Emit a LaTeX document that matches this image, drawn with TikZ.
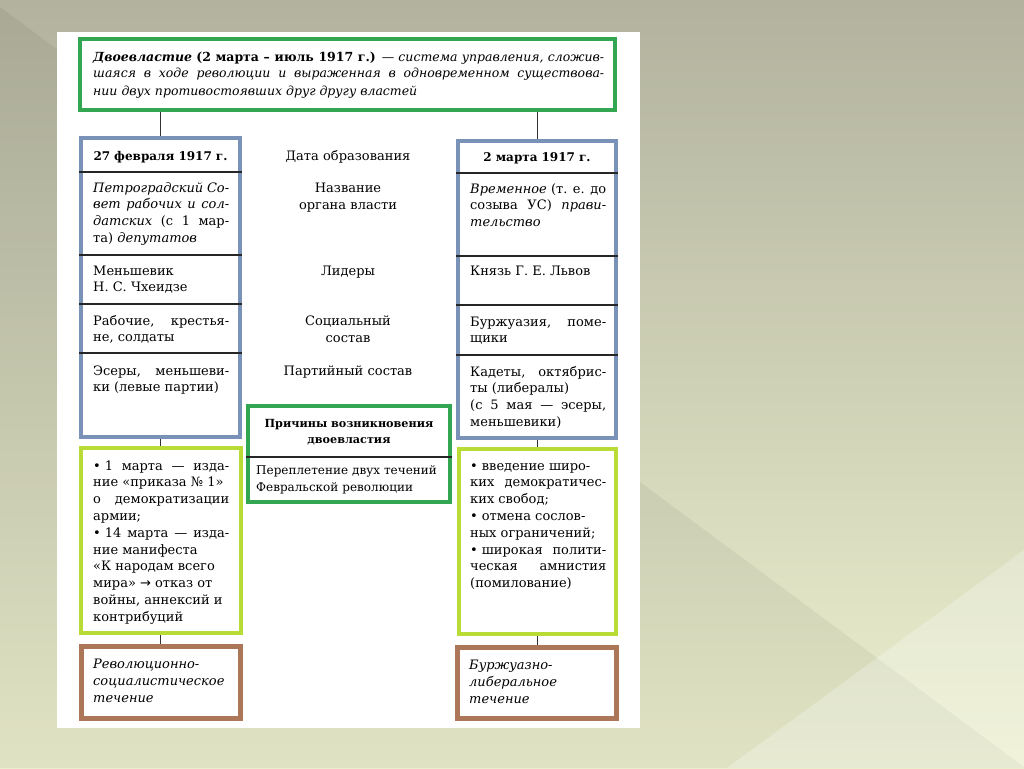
\documentclass[tikz,border=0pt]{standalone}
\usepackage{fontspec}
\setmainfont{DejaVu Serif}
\newfontfamily\symfont{DejaVu Sans}
\definecolor{cgreen}{RGB}{50,166,80}
\definecolor{cblue}{RGB}{122,146,184}
\definecolor{cyg}{RGB}{184,219,54}
\definecolor{cbrown}{RGB}{172,118,88}
\definecolor{bgtop}{RGB}{178,178,158}
\definecolor{bgbot}{RGB}{236,240,206}
\tikzset{
  frame/.style={draw, fill=white, inner sep=0pt, rectangle},
  gbox/.style={frame, draw=cgreen, line width=4pt},
  bbox/.style={frame, draw=cblue, line width=3.5pt},
  ybox/.style={frame, draw=cyg, line width=4pt},
  rbox/.style={frame, draw=cbrown, line width=5pt},
  txt/.style={inner sep=0pt, anchor=base west, align=justify, text width=136pt,
    font=\fontsize{13}{16.8}\selectfont},
  mid/.style={inner sep=0pt, anchor=base, align=center, text width=170pt,
    font=\fontsize{13}{17}\selectfont},
  conn/.style={draw=black!80, line width=1pt},
  divline/.style={draw=black!85, line width=1.3pt}
}
\begin{document}
\begin{tikzpicture}[x=1pt,y=-1pt]
\useasboundingbox (0,0) rectangle (1024,768);
% background
\shade[top color=bgtop, bottom color=bgbot] (0,0) rectangle (1024,768);
\fill[black, opacity=0.05] (0,7) -- (1024,767) -- (1024,768) -- (0,768) -- cycle;
\fill[white, opacity=0.25] (727,768) -- (1024,550) -- (1024,768) -- cycle;
\fill[white] (57,32) rectangle (640,728);

% boxes
\node[gbox, minimum width=535pt, minimum height=71pt] (top) at (347.5,74.5) {};
\node[bbox, minimum width=159pt, minimum height=299pt] (lb) at (160.5,287.5) {};
\node[bbox, minimum width=158pt, minimum height=297pt] (rb) at (537,289.5) {};
\node[ybox, minimum width=160pt, minimum height=185pt] (ly) at (160.5,540.5) {};
\node[ybox, minimum width=157pt, minimum height=185pt] (ry) at (537,541.5) {};
\node[rbox, minimum width=159pt, minimum height=72pt] (lr) at (160.5,682) {};
\node[rbox, minimum width=159pt, minimum height=71pt] (rr) at (537,682.5) {};
\node[gbox, minimum width=202pt, minimum height=96pt] (mb) at (349,454) {};

% connectors
\draw[conn] (lb.north) -- (lb.north |- top.south);
\draw[conn] (rb.north) -- (rb.north |- top.south);
\draw[conn] (lb.south) -- (lb.south |- ly.north);
\draw[conn] (rb.south) -- (rb.south |- ry.north);
\draw[conn] (ly.south) -- (ly.south |- lr.north);
\draw[conn] (ry.south) -- (ry.south |- rr.north);

% row dividers
\foreach \yy in {172,255,304,353} {
  \draw[divline] (lb.west |- 0,\yy) -- (lb.east |- 0,\yy);
}
\foreach \yy in {173,256,305,355} {
  \draw[divline] (rb.west |- 0,\yy) -- (rb.east |- 0,\yy);
}
\draw[divline] (mb.west |- 0,457) -- (mb.east |- 0,457);

% top text
\node[txt, text width=511pt, font=\fontsize{12.5}{17}\selectfont] (toptxt) at (93,61)
 {\textbf{\textit{Двоевластие}} \textbf{(2 марта – июль 1917 г.)} — \textit{система управления, сложив-\linebreak шаяся в ходе революции и выраженная в одновременном существова-\linebreak нии двух противостоявших друг другу властей}};

% left column
\node[txt, anchor=base, align=center, font=\bfseries\fontsize{12}{17}\selectfont] (l1) at (160.5,160) {27 февраля 1917 г.};
\node[txt] (l2) at (93,192) {\textit{Петроградский Со-\linebreak вет рабочих и сол-\linebreak датских} (с 1 мар-\linebreak та) \textit{депутатов}};
\node[txt] (l3) at (93,275) {Меньшевик\\ Н. С. Чхеидзе};
\node[txt] (l4) at (93,325) {Рабочие, крестья-\linebreak не, солдаты};
\node[txt] (l5) at (93,375) {Эсеры, меньшеви-\linebreak ки (левые партии)};

% right column
\node[txt, anchor=base, align=center, font=\bfseries\fontsize{12}{17}\selectfont] (r1) at (537,161) {2 марта 1917 г.};
\node[txt] (r2) at (470,193) {\textit{Временное} (т. е. до\linebreak созыва УС) \textit{прави-\linebreak тельство}};
\node[txt] (r3) at (470,275) {Князь Г. Е. Львов};
\node[txt] (r4) at (470,326) {Буржуазия, поме-\linebreak щики};
\node[txt] (r5) at (470,376) {Кадеты, октябрис-\linebreak ты (либералы)\\ (с 5 мая — эсеры,\linebreak меньшевики)};

% middle labels
\node[mid] (m1) at (348,160) {Дата образования};
\node[mid] (m2) at (348,192) {Название\\ органа власти};
\node[mid] (m3) at (348,275) {Лидеры};
\node[mid] (m4) at (348,325) {Социальный\\ состав};
\node[mid] (m5) at (348,375) {Партийный состав};

% middle box text
\node[mid, text width=198pt, font=\bfseries\fontsize{11.2}{16.5}\selectfont] (mb1) at (349,427) {Причины возникновения\\ двоевластия};
\node[txt, align=left, text width=194pt, font=\fontsize{12}{17}\selectfont] (mb2) at (256,474) {Переплетение двух течений\\ Февральской революции};

% yellow-green boxes text
\node[txt] (ly1) at (93,470) {•\hspace{4pt}1 марта — изда-\linebreak ние «приказа №~1»\\ о демократизации\linebreak армии;\\ •\hspace{4pt}14 марта — изда-\linebreak ние манифеста\\ «К народам всего\\ мира» {\symfont→} отказ от\\ войны, аннексий и\\ контрибуций};
\node[txt] (ry1) at (470,470) {•\hspace{4pt}введение широ-\\ ких демократичес-\linebreak ких свобод;\\ •\hspace{4pt}отмена сослов-\\ ных ограничений;\\ •\hspace{4pt}широкая полити-\linebreak ческая амнистия\linebreak (помилование)};

% brown boxes text
\node[txt, align=left, font=\itshape\fontsize{13}{17}\selectfont] (lr1) at (93,668) {Революционно-\\ социалистическое\\ течение};
\node[txt, align=left, font=\itshape\fontsize{13}{17}\selectfont] (rr1) at (469,669) {Буржуазно-\\ либеральное\\ течение};
\end{tikzpicture}
\end{document}
